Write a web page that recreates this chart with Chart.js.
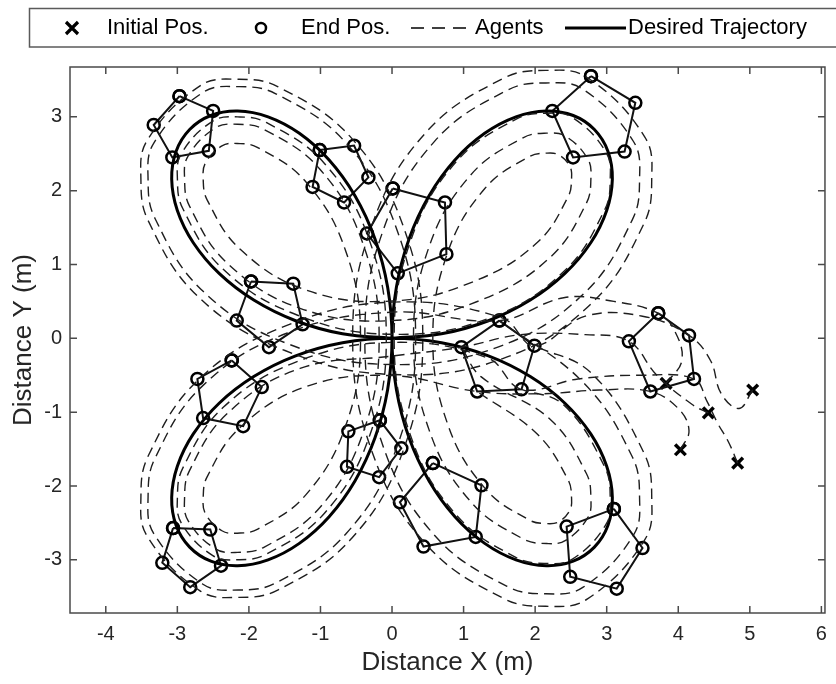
<!DOCTYPE html>
<html>
<head>
<meta charset="utf-8">
<script src="https://cdn.jsdelivr.net/npm/chart.js@4.4.1/dist/chart.umd.min.js"></script>
<style>
html,body{margin:0;padding:0;background:#fff;}
canvas{display:block;}
</style>
</head>
<body>
<canvas id="chart" width="836" height="684"></canvas>
<script>
// tick values of both axes
var xTicks=[-4,-3,-2,-1,0,1,2,3,4,5,6];
var yTicks=[-3,-2,-1,0,1,2,3];
var legendLabels=['Initial Pos.','End Pos.','Agents','Desired Trajectory'];

// desired trajectory (four leaf)
var desired=[[0,0],[0.692,0.061],[1.347,0.238],[1.932,0.518],[2.416,0.879],[2.777,1.295],[3.0,1.732],[3.079,2.156],[3.018,2.532],[2.828,2.828],[2.532,3.018],[2.156,3.079],[1.732,3.0],[1.295,2.777],[0.879,2.416],[0.518,1.932],[0.238,1.347],[0.061,0.692],
[0,0],[0.061,-0.692],[0.238,-1.347],[0.518,-1.932],[0.879,-2.416],[1.295,-2.777],[1.732,-3.0],[2.156,-3.079],[2.532,-3.018],[2.828,-2.828],[3.018,-2.532],[3.079,-2.156],[3.0,-1.732],[2.777,-1.295],[2.416,-0.879],[1.932,-0.518],[1.347,-0.238],[0.692,-0.061],
[0,0],[-0.692,-0.061],[-1.347,-0.238],[-1.932,-0.518],[-2.416,-0.879],[-2.777,-1.295],[-3.0,-1.732],[-3.079,-2.156],[-3.018,-2.532],[-2.828,-2.828],[-2.532,-3.018],[-2.156,-3.079],[-1.732,-3.0],[-1.295,-2.777],[-0.879,-2.416],[-0.518,-1.932],[-0.238,-1.347],[-0.061,-0.692],
[0,0],[-0.061,0.692],[-0.238,1.347],[-0.518,1.932],[-0.879,2.416],[-1.295,2.777],[-1.732,3.0],[-2.156,3.079],[-2.532,3.018],[-2.828,2.828],[-3.018,2.532],[-3.079,2.156],[-3.0,1.732],[-2.777,1.295],[-2.416,0.879],[-1.932,0.518],[-1.347,0.238],[-0.692,0.061],[0,0]];

// the five agents (dashed paths)
var agent1=[[4.83,-1.69],[4.7,-1.4],[4.55,-1.15],[4.4,-0.85],[4.22,-0.55],[3.5,-0.5],[2.6,-0.55],[1.81,-0.69],[1.337,-0.266],[0,-0.055],
[-1.319,-0.313],[-2.362,-0.938],[-2.924,-1.758],[-2.999,-2.157],[-2.943,-2.504],[-2.504,-2.943],[-2.157,-2.999],[-1.758,-2.924],[-0.938,-2.362],[-0.313,-1.319],[-0.08,0],
[-0.313,1.319],[-0.938,2.362],[-1.758,2.924],[-2.157,2.999],[-2.504,2.943],[-2.943,2.504],[-2.999,2.157],[-2.924,1.758],[-2.362,0.938],[-1.319,0.313],[0,0.055],
[1.337,0.266],[2.396,0.901],[2.972,1.742],[3.049,2.157],[2.990,2.521],[2.521,2.990],[2.157,3.049],[1.742,2.972],[0.901,2.396],[0.266,1.337],[0.03,0],
[0.266,-1.337],[0.901,-2.396],[1.742,-2.972],[2.157,-3.049],[2.521,-2.990],[2.990,-2.521],[3.049,-2.157],[2.972,-1.742],[2.396,-0.901],[1.81,-0.69]];

var agent2=[[4.03,-1.51],[4.15,-1.25],[4.0,-0.95],[3.61,-0.72],[2.9,-0.7],[2.1,-0.75],[1.19,-0.72],[0,-0.505],
[-1.194,-0.651],[-2.117,-1.202],[-2.584,-1.876],[-2.639,-2.164],[-2.606,-2.377],[-2.377,-2.606],[-2.164,-2.639],[-1.876,-2.584],[-1.202,-2.117],[-0.651,-1.194],[-0.44,0],
[-0.651,1.194],[-1.202,2.117],[-1.876,2.584],[-2.164,2.639],[-2.377,2.606],[-2.606,2.377],[-2.639,2.164],[-2.584,1.876],[-2.117,1.202],[-1.194,0.651],[0,0.505],
[1.149,0.773],[2.029,1.297],[2.461,1.918],[2.509,2.166],[2.484,2.331],[2.331,2.484],[2.166,2.509],[1.918,2.461],[1.297,2.029],[0.773,1.149],[0.57,0],
[0.773,-1.149],[1.297,-2.029],[1.918,-2.461],[2.166,-2.509],[2.331,-2.484],[2.484,-2.331],[2.509,-2.166],[2.461,-1.918],[2.029,-1.297],[1.19,-0.72]];

var agent3=[[4.42,-1.01],[4.2,-0.9],[3.7,-0.5],[3.31,-0.04],[2.7,0.05],[1.8,0.05],[0.97,-0.12],[0,-0.24],
[-1.285,-0.407],[-2.294,-1.011],[-2.830,-1.791],[-2.899,-2.159],[-2.850,-2.469],[-2.469,-2.850],[-2.159,-2.899],[-1.791,-2.830],[-1.011,-2.294],[-0.407,-1.285],[-0.18,0],
[-0.407,1.285],[-1.011,2.294],[-1.791,2.830],[-2.159,2.899],[-2.469,2.850],[-2.850,2.469],[-2.899,2.159],[-2.830,1.791],[-2.294,1.011],[-1.285,0.407],[0,0.24],
[1.243,0.519],[2.212,1.099],[2.716,1.830],[2.779,2.161],[2.737,2.426],[2.426,2.737],[2.161,2.779],[1.830,2.716],[1.099,2.212],[0.519,1.243],[0.30,0],
[0.519,-1.243],[1.099,-2.212],[1.830,-2.716],[2.161,-2.779],[2.426,-2.737],[2.737,-2.426],[2.779,-2.161],[2.716,-1.830],[2.212,-1.099],[1.243,-0.519],[0.97,-0.12]];

var agent4=[[3.83,-0.61],[4.05,-0.3],[3.95,0.1],[3.72,0.34],[3.1,0.5],[2.4,0.55],[1.5,0.24],[0,0.355],
[-1.462,0.072],[-2.640,-0.637],[-3.312,-1.624],[-3.409,-2.150],[-3.327,-2.648],[-2.648,-3.327],[-2.150,-3.409],[-1.624,-3.312],[-0.637,-2.640],[0.072,-1.462],[0.33,0],
[0.072,1.462],[-0.637,2.640],[-1.624,3.312],[-2.150,3.409],[-2.648,3.327],[-3.327,2.648],[-3.409,2.150],[-3.312,1.624],[-2.640,0.637],[-1.462,-0.072],[0,-0.355],
[1.479,-0.118],[2.674,0.600],[3.359,1.608],[3.459,2.149],[3.374,2.666],[2.666,3.374],[2.149,3.459],[1.608,3.359],[0.600,2.674],[-0.118,1.479],[-0.38,0],
[-0.118,-1.479],[0.600,-2.674],[1.608,-3.359],[2.149,-3.459],[2.666,-3.374],[3.374,-2.666],[3.459,-2.149],[3.359,-1.608],[2.674,-0.600],[1.5,0.24]];

var agent5=[[5.04,-0.70],[4.85,-0.95],[4.6,-0.75],[4.45,-0.3],[4.15,0.04],[3.5,0.3],[2.7,0.3],[1.99,-0.1],[1.538,0.278],[0,0.49],
[-1.496,0.165],[-2.708,-0.563],[-3.406,-1.591],[-3.509,-2.148],[-3.420,-2.683],[-2.683,-3.420],[-2.148,-3.509],[-1.591,-3.406],[-0.563,-2.708],[0.165,-1.496],[0.43,0],
[0.165,1.496],[-0.563,2.708],[-1.591,3.406],[-2.148,3.509],[-2.683,3.420],[-3.420,2.683],[-3.509,2.148],[-3.406,1.591],[-2.708,0.563],[-1.496,-0.165],[0,-0.49],
[1.538,-0.278],[2.789,0.475],[3.520,1.552],[3.629,2.146],[3.533,2.726],[2.726,3.533],[2.146,3.629],[1.552,3.520],[0.475,2.789],[-0.278,1.538],[-0.55,0],
[-0.278,-1.538],[0.475,-2.789],[1.552,-3.520],[2.146,-3.629],[2.726,-3.533],[3.533,-2.726],[3.629,-2.146],[3.520,-1.552],[2.789,-0.475],[1.99,-0.1]];

var initialPos=[[5.04,-0.70],[4.42,-1.01],[4.03,-1.51],[4.83,-1.69],[3.83,-0.61]];

// formation snapshots (5 agents each, joined in order)
var formations=[
 [[3.72,0.34],[4.15,0.04],[4.22,-0.55],[3.61,-0.72],[3.31,-0.04]],
 [[1.50,0.24],[1.99,-0.10],[1.81,-0.69],[1.19,-0.72],[0.97,-0.12]],
 [[-2.24,-0.30],[-1.82,-0.66],[-2.08,-1.19],[-2.64,-1.08],[-2.72,-0.55]],
 [[-3.06,-2.57],[-2.54,-2.59],[-2.39,-3.08],[-2.82,-3.37],[-3.21,-3.04]],
 [[-0.17,-1.11],[0.13,-1.49],[-0.18,-1.88],[-0.63,-1.74],[-0.61,-1.26]],
 [[-1.01,2.55],[-0.53,2.61],[-0.33,2.18],[-0.67,1.84],[-1.11,2.05]],
 [[-2.97,3.28],[-2.50,3.08],[-2.56,2.54],[-3.07,2.45],[-3.33,2.89]],
 [[-1.97,0.77],[-1.38,0.74],[-1.25,0.19],[-1.72,-0.12],[-2.17,0.24]],
 [[2.78,3.55],[3.40,3.19],[3.25,2.53],[2.53,2.45],[2.24,3.08]],
 [[0.01,2.03],[0.74,1.84],[0.76,1.14],[0.08,0.88],[-0.35,1.42]],
 [[0.57,-1.69],[1.25,-1.99],[1.17,-2.69],[0.44,-2.82],[0.11,-2.22]],
 [[3.10,-2.31],[3.50,-2.84],[3.14,-3.39],[2.49,-3.23],[2.44,-2.55]]
];

function toXY(arr){
    return arr.map(function(p){ return {x:p[0], y:p[1]}; });
}

Chart.defaults.font.family='"Liberation Sans", Arial, Helvetica, sans-serif';
Chart.defaults.color='#262626';

var datasets=[];
[agent1,agent2,agent3,agent4,agent5].forEach(function(a){
    datasets.push({
        data:toXY(a), showLine:true, fill:false,
        borderColor:'#1e1e1e', borderWidth:1.4, borderDash:[10,6],
        tension:0.4, pointRadius:0
    });
});
datasets.push({
    data:toXY(desired), showLine:true, fill:false,
    borderColor:'#000', borderWidth:3, tension:0.4, pointRadius:0
});
formations.forEach(function(f){
    //closing the pentagon by repeating the first vertex
    datasets.push({
        data:toXY(f.concat([f[0]])), showLine:true, fill:false,
        borderColor:'#111', borderWidth:2, tension:0,
        pointStyle:'circle', pointRadius:6, pointBorderWidth:2.5,
        pointBorderColor:'#000', pointBackgroundColor:'rgba(255,255,255,0)'
    });
});
datasets.push({
    data:toXY(initialPos), showLine:false,
    pointStyle:'crossRot', pointRadius:7.5, pointBorderWidth:3.5,
    pointBorderColor:'#000', borderColor:'#000'
});

//box round the axes with inward ticks on the four sides
var axesBox={
    id:'axesBox',
    afterDatasetsDraw:function(chart){
        var a=chart.chartArea, c=chart.ctx, sx=chart.scales.x, sy=chart.scales.y;
        c.save();
        c.setLineDash([]);
        c.strokeStyle='#4a4a4a';
        c.lineWidth=1.5;
        c.strokeRect(a.left,a.top,a.right-a.left,a.bottom-a.top);
        c.beginPath();
        xTicks.forEach(function(v){
            var p=sx.getPixelForValue(v);
            c.moveTo(p,a.bottom); c.lineTo(p,a.bottom-7);
            c.moveTo(p,a.top); c.lineTo(p,a.top+7);
        });
        yTicks.forEach(function(v){
            var p=sy.getPixelForValue(v);
            c.moveTo(a.left,p); c.lineTo(a.left+7,p);
            c.moveTo(a.right,p); c.lineTo(a.right-7,p);
        });
        c.stroke();
        c.restore();
    }
};

//legend drawn as one boxed row above the plot
var legendRow={
    id:'legendRow',
    afterDraw:function(chart){
        var c=chart.ctx, y=28;
        c.save();
        c.setLineDash([]);
        c.strokeStyle='#5a5a5a';
        c.lineWidth=1.5;
        c.strokeRect(29.5,8.5,820,38.5);
        c.strokeStyle='#000';
        c.lineWidth=3.2;
        c.beginPath();
        c.moveTo(66,y-6); c.lineTo(78,y+6);
        c.moveTo(66,y+6); c.lineTo(78,y-6);
        c.stroke();
        c.lineWidth=2.5;
        c.beginPath();
        c.arc(261,y,5,0,Math.PI*2);
        c.stroke();
        c.lineWidth=1.5;
        c.setLineDash([13,8]);
        c.beginPath();
        c.moveTo(411,y); c.lineTo(472,y);
        c.stroke();
        c.setLineDash([]);
        c.lineWidth=3;
        c.beginPath();
        c.moveTo(565,y); c.lineTo(626,y);
        c.stroke();
        c.fillStyle='#000';
        c.font='22px "Liberation Sans", Arial, sans-serif';
        c.textBaseline='middle';
        c.textAlign='left';
        c.fillText(legendLabels[0],107,y);
        c.fillText(legendLabels[1],301,y);
        c.fillText(legendLabels[2],475,y);
        c.fillText(legendLabels[3],628,y);
        c.restore();
    }
};

var ctx=document.getElementById('chart').getContext('2d');
var chart=new Chart(ctx,{
    type:'scatter',
    data:{datasets:datasets},
    options:{
        responsive:false,
        animation:false,
        devicePixelRatio:1,
        layout:{padding:{top:67,right:1,left:0,bottom:0}},
        plugins:{legend:{display:false},tooltip:{enabled:false}},
        scales:{
            x:{
                type:'linear', position:'bottom', min:-4.5, max:6.05,
                afterBuildTicks:function(s){ s.ticks=xTicks.map(function(v){return {value:v};}); },
                afterFit:function(s){ s.height=71; },
                grid:{display:false,drawTicks:false},
                border:{display:false},
                ticks:{padding:9,font:{size:20},maxRotation:0,autoSkip:false,color:'#262626'},
                title:{display:true,text:'Distance X (m)',font:{size:26},color:'#262626',padding:{top:0,bottom:6}}
            },
            y:{
                type:'linear', position:'left', min:-3.72, max:3.675,
                afterBuildTicks:function(s){ s.ticks=yTicks.map(function(v){return {value:v};}); },
                afterFit:function(s){ s.width=70; },
                grid:{display:false,drawTicks:false},
                border:{display:false},
                ticks:{padding:8,font:{size:20},autoSkip:false,color:'#262626'},
                title:{display:true,text:'Distance Y (m)',font:{size:26},color:'#262626',padding:{top:8,bottom:0}}
            }
        }
    },
    plugins:[axesBox,legendRow]
});
</script>
</body>
</html>
